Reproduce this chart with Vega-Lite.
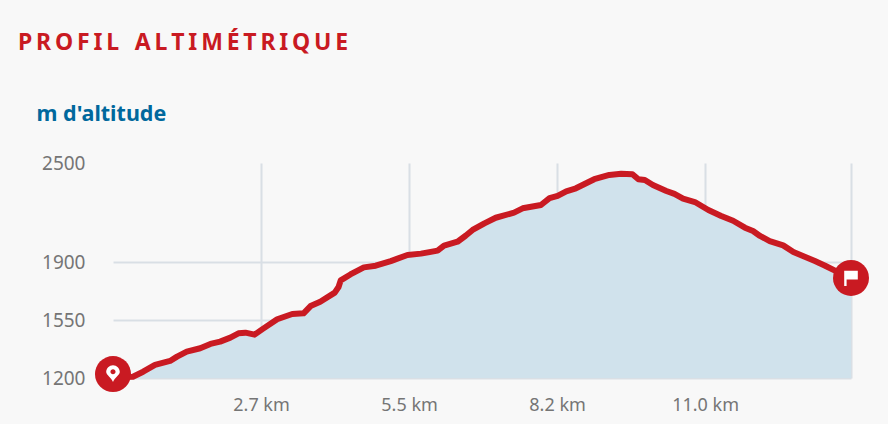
{
"$schema":"https://vega.github.io/schema/vega-lite/v6.json",
"width":738,"height":215,
"autosize":{"type":"none"},
"padding":{"left":113,"top":163,"right":37,"bottom":46},
"background":"#f8f8f8",
"view":{"stroke":null},
"title":{"text":"P\u2009R\u2009O\u2009F\u2009I\u2009L\u00a0\u00a0\u2009A\u2009L\u2009T\u2009I\u2009M\u2009É\u2009T\u2009R\u2009I\u2009Q\u2009U\u2009E","anchor":"start","frame":"group","dx":-95,"offset":48,"font":"Noto Sans","fontSize":23,"fontWeight":"bold","color":"#c91a22"},
"datasets":{
"profile":[
{"km":0,"alt":1224},{"km":0.17,"alt":1206},{"km":0.37,"alt":1208},{"km":0.56,"alt":1238},{"km":0.78,"alt":1279},{"km":1.06,"alt":1303},{"km":1.19,"alt":1329},{"km":1.37,"alt":1359},{"km":1.62,"alt":1380},{"km":1.81,"alt":1406},{"km":1.99,"alt":1420},{"km":2.18,"alt":1444},{"km":2.33,"alt":1470},{"km":2.46,"alt":1474},{"km":2.63,"alt":1462},{"km":2.77,"alt":1494},{"km":3.05,"alt":1555},{"km":3.33,"alt":1587},{"km":3.54,"alt":1591},{"km":3.67,"alt":1635},{"km":3.85,"alt":1661},{"km":4.12,"alt":1716},{"km":4.19,"alt":1750},{"km":4.23,"alt":1790},{"km":4.41,"alt":1826},{"km":4.66,"alt":1869},{"km":4.88,"alt":1879},{"km":5.16,"alt":1907},{"km":5.47,"alt":1944},{"km":5.72,"alt":1952},{"km":6.03,"alt":1970},{"km":6.15,"alt":2000},{"km":6.4,"alt":2024},{"km":6.55,"alt":2060},{"km":6.68,"alt":2095},{"km":6.9,"alt":2135},{"km":7.11,"alt":2169},{"km":7.45,"alt":2200},{"km":7.61,"alt":2226},{"km":7.95,"alt":2246},{"km":8.11,"alt":2287},{"km":8.26,"alt":2301},{"km":8.42,"alt":2329},{"km":8.6,"alt":2347},{"km":8.94,"alt":2402},{"km":9.22,"alt":2428},{"km":9.44,"alt":2435},{"km":9.65,"alt":2432},{"km":9.76,"alt":2402},{"km":9.88,"alt":2397},{"km":10.03,"alt":2367},{"km":10.28,"alt":2331},{"km":10.43,"alt":2313},{"km":10.59,"alt":2284},{"km":10.81,"alt":2264},{"km":11.06,"alt":2216},{"km":11.3,"alt":2180},{"km":11.52,"alt":2151},{"km":11.74,"alt":2109},{"km":11.89,"alt":2089},{"km":12.02,"alt":2059},{"km":12.2,"alt":2028},{"km":12.45,"alt":2002},{"km":12.64,"alt":1962},{"km":13.04,"alt":1907},{"km":13.23,"alt":1879},{"km":13.45,"alt":1843},{"km":13.71,"alt":1805}
],
"ends":[{"km":0,"alt":1224,"kind":"start"},{"km":13.71,"alt":1805,"kind":"end"}]
},
"data":{"name":"profile"},
"encoding":{
"x":{"field":"km","type":"quantitative","scale":{"domain":[0,13.71],"nice":false,"zero":false},
"axis":{"title":null,"values":[2.75,5.5,8.25,11,13.71],"domain":false,"ticks":false,"labelPadding":18,"labelFont":"Noto Sans","labelFontSize":18,"labelColor":"#757575","labelExpr":"datum.value>13?'':format(floor(datum.value*10)/10,'.1f')+' km'","grid":true,"gridColor":"#d9dfe5","gridWidth":2}},
"y":{"field":"alt","type":"quantitative","scale":{"domain":[1200,2500],"nice":false,"zero":false},
"axis":{"title":"m d'altitude","titleAngle":0,"titleAlign":"left","titleBaseline":"alphabetic","titleX":-77,"titleY":-43,"titleFont":"Noto Sans","titleFontSize":21.5,"titleFontWeight":"bold","titleColor":"#00689d","values":[1200,1550,1900,2500],"format":"d","domain":false,"ticks":false,"labelPadding":28,"labelFont":"Noto Sans","labelFontSize":19,"labelColor":"#757575","grid":true,"gridColor":"#d9dfe5","gridWidth":2,"gridOpacity":{"condition":{"test":"datum.value==2500","value":0},"value":1}}}
},
"layer":[
{"mark":{"type":"area","fill":"#d0e2ec"},"encoding":{"y2":{"datum":1200}}},
{"mark":{"type":"line","stroke":"#c91a22","strokeWidth":6,"strokeJoin":"round","strokeCap":"round"}},
{"data":{"name":"ends"},"mark":{"type":"point","filled":true,"shape":"circle","size":1296,"fill":"#c91a22","opacity":1}},
{"data":{"name":"ends"},"transform":[{"filter":"datum.kind=='start'"}],"mark":{"type":"point","filled":true,"opacity":1,"fill":"#ffffff","size":256,"shape":"M0,1 C-0.2,0.45 -0.85,0.1 -0.85,-0.25 A0.85,0.85 0 1 1 0.85,-0.25 C0.85,0.1 0.2,0.45 0,1 Z M0,-0.6 A0.32,0.32 0 1 0 0,0.04 A0.32,0.32 0 1 0 0,-0.6 Z"}},
{"data":{"name":"ends"},"transform":[{"filter":"datum.kind=='end'"}],"mark":{"type":"point","filled":true,"opacity":1,"fill":"#ffffff","size":256,"shape":"M-0.85,-0.9 L0.85,-0.9 L0.85,0.2 L-0.55,0.2 L-0.55,1 L-0.85,1 Z"}}
]
}
